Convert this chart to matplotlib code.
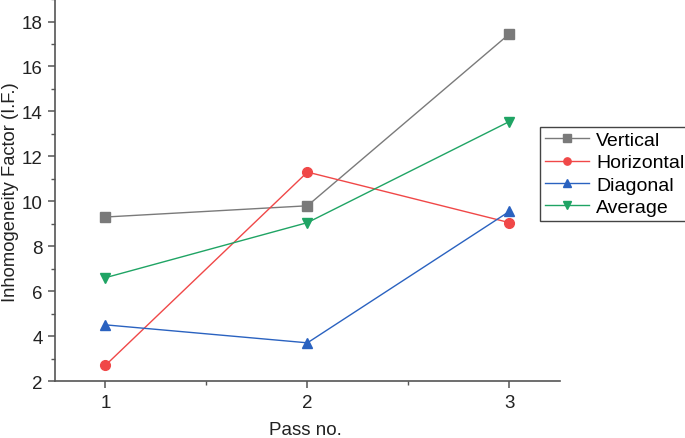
import matplotlib

matplotlib.use("Agg")
import matplotlib.pyplot as plt
from matplotlib.ticker import MultipleLocator

plt.rcParams["font.family"] = ["Liberation Sans", "DejaVu Sans"]

passes = [1, 2, 3]
vertical = [9.3, 9.8, 17.45]
horizontal = [2.7, 11.3, 9.05]
diagonal = [4.5, 3.7, 9.55]
average = [6.6, 9.05, 13.55]

series = [
    ("Vertical", vertical, "#7a7a7a", "s"),
    ("Horizontal", horizontal, "#f04848", "o"),
    ("Diagonal", diagonal, "#2a62c0", "^"),
    ("Average", average, "#1fa464", "v"),
]

fig = plt.figure(figsize=(6.85, 4.39), dpi=100)
ax = fig.add_axes([0.0803, 0.1298, 0.737, 0.870])

for name, vals, color, marker in series:
    ax.plot(passes, vals, color=color, lw=1.0, marker=marker, ms=7,
            mec=color, mfc=color, label=name)

ax.set_xlim(0.75, 3.25)
ax.set_ylim(2, 19)
ax.set_xticks(passes)
ax.xaxis.set_minor_locator(MultipleLocator(0.5))
ax.yaxis.set_major_locator(MultipleLocator(2))
ax.yaxis.set_minor_locator(MultipleLocator(1))

for s in ("top", "right"):
    ax.spines[s].set_visible(False)
for s in ("left", "bottom"):
    ax.spines[s].set_color("#555555")
    ax.spines[s].set_linewidth(1.2)

ax.tick_params(which="both", direction="out", color="#555555", labelsize=13.5,
               labelcolor="#222222", pad=4)
ax.tick_params(which="major", length=5, width=1.1)
ax.tick_params(which="minor", length=3, width=1.0)

# axis titles placed in figure coords so nothing is clipped at the edges
fig.text(305 / 685, 4 / 439, "Pass no.", fontsize=13.5, color="#222222",
         ha="center", va="baseline")
fig.text(11 / 685, 1 - 192 / 439, "Inhomogeneity Factor (I.F.)", fontsize=13.2,
         color="#222222", rotation=90, ha="center", va="center")

leg = fig.legend(loc="upper left", bbox_to_anchor=(0.788, 0.709), fontsize=14,
                 frameon=True, fancybox=False, framealpha=1, edgecolor="#444444",
                 borderpad=0.25, labelspacing=0.24, handlelength=2.3,
                 handletextpad=0.35, borderaxespad=0, markerscale=0.75)
leg.get_frame().set_linewidth(1.0)

fig.savefig("out.png", dpi=100)
